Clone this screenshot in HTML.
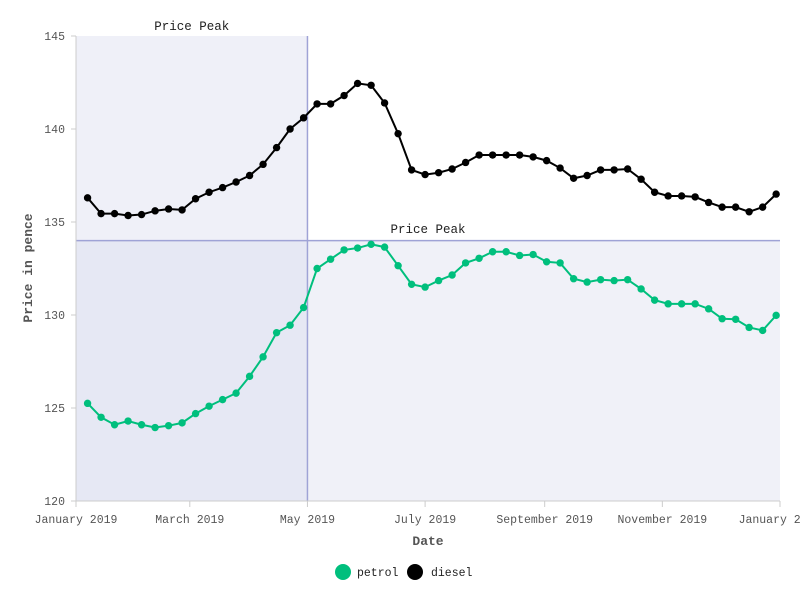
<!DOCTYPE html>
<html><head><meta charset="utf-8"><style>
html,body{margin:0;padding:0;background:#fff;}
svg{display:block;font-family:"Liberation Mono","DejaVu Sans Mono",monospace;}
</style></head><body>
<svg id="chart" width="800" height="600" viewBox="0 0 800 600"></svg>
<script>
const dates = [];
for (let i = 0; i < 52; i++) { dates.push(new Date(Date.UTC(2019, 0, 7 + 7 * i))); }
const petrol = [125.25,124.5,124.1,124.3,124.1,123.95,124.05,124.2,124.7,125.1,125.45,125.8,126.7,127.75,129.05,129.45,130.4,132.5,133.0,133.5,133.6,133.8,133.65,132.65,131.65,131.5,131.85,132.15,132.8,133.05,133.4,133.4,133.2,133.25,132.86,132.8,131.95,131.77,131.9,131.85,131.9,131.4,130.8,130.6,130.6,130.6,130.33,129.8,129.77,129.33,129.17,129.98];
const diesel = [136.3,135.45,135.45,135.35,135.4,135.6,135.7,135.65,136.25,136.6,136.85,137.15,137.5,138.1,139.0,140.0,140.6,141.35,141.35,141.8,142.45,142.35,141.4,139.75,137.8,137.55,137.65,137.85,138.2,138.6,138.6,138.6,138.6,138.5,138.3,137.9,137.35,137.5,137.8,137.8,137.85,137.3,136.6,136.4,136.4,136.35,136.05,135.8,135.8,135.55,135.8,136.5];
const yTicks = [120,125,130,135,140,145];
const xTickLabels = ["January 2019","March 2019","May 2019","July 2019","September 2019","November 2019","January 2020"];
const xTickDates = [[2019,0],[2019,2],[2019,4],[2019,6],[2019,8],[2019,10],[2020,0]];
const peakDate = [2019,4];
const peakPrice = 134;

const L=76,R=780,T=36,B=501;
const t0=Date.UTC(2019,0,1), t1=Date.UTC(2020,0,1);
const xs = d => L + (d - t0) / (t1 - t0) * (R - L);
const ys = v => B - (v - 120) / 25 * (B - T);
const svg = document.getElementById('chart');
const NS='http://www.w3.org/2000/svg';
function mk(tag, attrs, parent){ const e=document.createElementNS(NS,tag); for(const k in attrs) e.setAttribute(k,attrs[k]); (parent||svg).appendChild(e); return e; }

const px = xs(Date.UTC(peakDate[0],peakDate[1],1));
const py = ys(peakPrice);
let r = mk('rect',{x:L,y:T,width:px-L,height:B-T,fill:'#eff0f8'});
 
r = mk('rect',{x:L,y:py,width:R-L,height:B-py,fill:'#eff0f8',opacity:'0.95'});
 
r = mk('rect',{x:L,y:py,width:px-L,height:B-py,fill:'#e6e8f4'});
 
let ln = mk('line',{x1:px,y1:T,x2:px,y2:B,stroke:'#9fa3d6','stroke-width':1.5});
 
ln = mk('line',{x1:L,y1:py,x2:R,y2:py,stroke:'#9fa3d6','stroke-width':1.5});
 
let tx = mk('text',{x:(L+px)/2,y:30,'text-anchor':'middle','font-size':12.5,fill:'#222'}); tx.textContent='Price Peak';
 
tx = mk('text',{x:428,y:233,'text-anchor':'middle','font-size':12.5,fill:'#222'}); tx.textContent='Price Peak';
 

ln = mk('line',{x1:L,y1:T,x2:L,y2:B,stroke:'#ccc'});
 
ln = mk('line',{x1:L,y1:B,x2:R,y2:B,stroke:'#ccc'});
 
yTicks.forEach(v=>{
  const t = mk('line',{x1:L-5,y1:ys(v),x2:L,y2:ys(v),stroke:'#ccc'});
   
  const l = mk('text',{x:L-11,y:ys(v)+4,'text-anchor':'end','font-size':11.5,fill:'#555'}); l.textContent=v;
   
});
xTickDates.forEach((d,i)=>{
  const x = xs(Date.UTC(d[0],d[1],1));
  const t = mk('line',{x1:x,y1:B,x2:x,y2:B+6,stroke:'#ccc'});
   
  const l = mk('text',{x:x,y:523,'text-anchor':'middle','font-size':11.5,fill:'#555'}); l.textContent=xTickLabels[i];
   
});
tx = mk('text',{x:428,y:545,'text-anchor':'middle','font-size':13,'font-weight':'bold',fill:'#555'}); tx.textContent='Date';
 
tx = mk('text',{x:32,y:268,'text-anchor':'middle','font-size':13,'font-weight':'bold',fill:'#555',transform:'rotate(-90 32 268)'}); tx.textContent='Price in pence';
 

function series(vals,color,name){
  const g = mk('g',{});
   
  const pts = vals.map((v,i)=>xs(dates[i].getTime())+','+ys(v)).join(' ');
  const pl = mk('polyline',{points:pts,fill:'none',stroke:color,'stroke-width':2},g);
   
  vals.forEach((v,i)=>{
    const c = mk('circle',{cx:xs(dates[i].getTime()),cy:ys(v),r:3.7,fill:color},g);
     
  });
}
series(petrol,'#00bf7d','petrol');
series(diesel,'#000000','diesel');

let c = mk('circle',{cx:343,cy:572,r:8,fill:'#00bf7d'});
 
tx = mk('text',{x:357,y:576,'font-size':11.5,fill:'#222'}); tx.textContent='petrol';
 
c = mk('circle',{cx:415,cy:572,r:8,fill:'#000'});
 
tx = mk('text',{x:431,y:576,'font-size':11.5,fill:'#222'}); tx.textContent='diesel';
 
</script>
</body></html>
